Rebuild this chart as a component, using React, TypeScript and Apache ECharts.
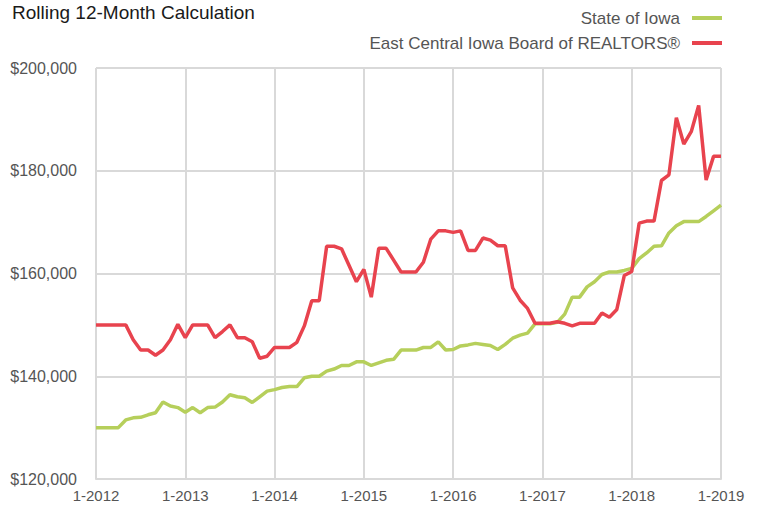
import React, { useEffect, useRef } from "react";
import * as echarts from "echarts";

const years = [2012, 2013, 2014, 2015, 2016, 2017, 2018, 2019];

const stateOfIowa = [
  130.0, 130.0, 130.0, 130.0, 131.5, 131.9, 132.0, 132.5, 132.9, 135.0, 134.2, 133.9,
  133.0, 133.9, 132.9, 133.9, 134.0, 135.0, 136.4, 136.0, 135.8, 134.9, 136.0, 137.1,
  137.4, 137.8, 138.0, 138.0, 139.7, 140.0, 140.0, 141.0, 141.4, 142.1, 142.1, 142.8,
  142.8, 142.1, 142.6, 143.1, 143.3, 145.1, 145.1, 145.1, 145.6, 145.6, 146.7, 145.1,
  145.2, 145.9, 146.1, 146.4, 146.2, 146.0, 145.2, 146.2, 147.4, 148.0, 148.4, 150.2,
  150.2, 150.2, 150.5, 152.1, 155.4, 155.4, 157.4, 158.4, 159.8, 160.3, 160.3, 160.6,
  161.0, 162.9, 164.0, 165.3, 165.4, 167.9, 169.3, 170.1, 170.1, 170.1, 171.1, 172.2,
  173.3,
];

const eastCentralIowa = [
  150.0, 150.0, 150.0, 150.0, 150.0, 147.1, 145.1, 145.1, 144.1, 145.1, 147.1, 150.1,
  147.5, 150.0, 150.0, 150.0, 147.5, 148.7, 150.0, 147.5, 147.5, 146.7, 143.5, 143.9,
  145.6, 145.6, 145.6, 146.6, 149.8, 154.7, 154.7, 165.3, 165.3, 164.8, 161.6, 158.4,
  160.8, 155.4, 164.9, 164.9, 162.6, 160.3, 160.3, 160.3, 162.2, 166.7, 168.3, 168.3,
  168.0, 168.3, 164.5, 164.5, 166.9, 166.5, 165.4, 165.4, 157.2, 154.8, 153.2, 150.3,
  150.3, 150.3, 150.6, 150.3, 149.8, 150.3, 150.3, 150.3, 152.3, 151.5, 153.0, 159.6,
  160.4, 169.8, 170.2, 170.2, 178.1, 179.2, 190.3, 185.2, 187.6, 192.7, 178.2, 182.8,
  182.8,
];

const months: string[] = [];
years.forEach((y, yi) => {
  const count = yi === years.length - 1 ? 1 : 12;
  for (let m = 1; m <= count; m++) months.push(`${m}-${y}`);
});

const FONT = "'Liberation Sans', Arial, sans-serif";

export default function App() {
  const ref = useRef<HTMLDivElement>(null);
  useEffect(() => {
    if (!ref.current) return;
    const chart = echarts.init(ref.current, undefined, { renderer: "svg" });
    chart.setOption({
      animation: false,
      backgroundColor: "#ffffff",
      textStyle: { fontFamily: FONT },
      title: {
        text: "Rolling 12-Month Calculation",
        left: 7,
        top: -2,
        textStyle: { fontFamily: FONT, fontSize: 19, fontWeight: "normal", color: "#1a1a1a" },
      },
      legend: {
        orient: "vertical",
        right: 32,
        top: 3,
        align: "right",
        icon: "rect",
        itemWidth: 30,
        itemHeight: 4,
        itemGap: 5,
        textStyle: { fontFamily: FONT, fontSize: 17, color: "#555555", lineHeight: 20, padding: [0, 7, 0, 0] },
        data: ["State of Iowa", "East Central Iowa Board of REALTORS®"],
      },
      grid: { left: 96, right: 38, top: 68, bottom: 36, containLabel: false },
      xAxis: {
        type: "category",
        data: months,
        boundaryGap: false,
        axisLine: { show: true, lineStyle: { color: "#d9d9d9", width: 2 } },
        axisTick: { show: false },
        axisLabel: {
          interval: (i: number) => i % 12 === 0,
          color: "#555555",
          fontFamily: FONT,
          fontSize: 15,
          margin: 9,
        },
        splitLine: {
          show: true,
          interval: (i: number) => i % 12 === 0,
          lineStyle: { color: "#d9d9d9", width: 2 },
        },
      },
      yAxis: {
        type: "value",
        min: 120,
        max: 200,
        interval: 20,
        axisLine: { show: false },
        axisTick: { show: false },
        axisLabel: {
          color: "#555555",
          fontFamily: FONT,
          fontSize: 16,
          margin: 19,
          formatter: (v: number) => "$" + (v * 1000).toLocaleString("en-US"),
        },
        splitLine: { show: true, lineStyle: { color: "#d9d9d9", width: 2 } },
      },
      series: [
        {
          name: "State of Iowa",
          type: "line",
          data: stateOfIowa,
          symbol: "none",
          lineStyle: { color: "#b6cf5b", width: 3.5 },
          itemStyle: { color: "#b6cf5b" },
          z: 2,
        },
        {
          name: "East Central Iowa Board of REALTORS®",
          type: "line",
          data: eastCentralIowa,
          symbol: "none",
          lineStyle: { color: "#e8434e", width: 3.5 },
          itemStyle: { color: "#e8434e" },
          z: 3,
        },
      ],
    });
    return () => chart.dispose();
  }, []);
  return <div ref={ref} style={{ width: 759, height: 515, position: "absolute", left: 0, top: 0 }} />;
}
